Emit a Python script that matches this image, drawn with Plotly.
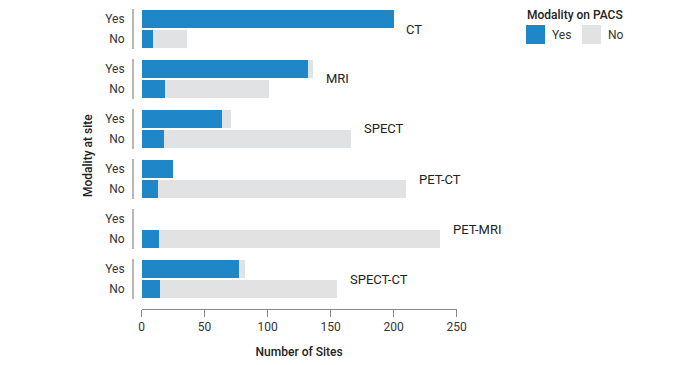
import plotly.graph_objects as go

modalities = ["CT", "MRI", "SPECT", "PET-CT", "PET-MRI", "SPECT-CT"]
site_levels = ["Yes", "No"]
# counts: [modality at site = Yes, modality at site = No]
pacs_yes = {
    "CT": [200, 9], "MRI": [132, 19], "SPECT": [64, 18],
    "PET-CT": [25, 13], "PET-MRI": [0, 14], "SPECT-CT": [77, 15],
}
pacs_no = {
    "CT": [0, 27], "MRI": [4, 82], "SPECT": [7, 148],
    "PET-CT": [0, 197], "PET-MRI": [0, 223], "SPECT-CT": [5, 140],
}
x_ticks = [0, 50, 100, 150, 200, 250]
legend_title = "Modality on PACS"
legend_names = ["Yes", "No"]

BLUE = "#1f86c8"
GRAY = "#e1e2e3"
FONT = "Roboto"

# page has an 8px body margin; figure is sized to fill the rest of the window
FIG_W, FIG_H = 692, 357
L, R, T, B = 125, 240, 1, 56
W, H = FIG_W - L - R, FIG_H - T - B
group_px, gap_px = 40, 10


def px_x(v):
    return (v - L) / W


def px_y(v):
    return (FIG_H - B - v) / H


fig = go.Figure()
annotations = []
shapes = []
for i, m in enumerate(modalities):
    yname = "y" if i == 0 else f"y{i+1}"
    top = i * (group_px + gap_px)
    d1 = 1 - top / H
    d0 = 1 - (top + group_px) / H
    fig.add_trace(go.Bar(
        y=site_levels, x=pacs_yes[m], orientation="h", name=legend_names[0],
        marker=dict(color=BLUE, line=dict(width=0)),
        showlegend=False, xaxis="x", yaxis=yname,
    ))
    fig.add_trace(go.Bar(
        y=site_levels, x=pacs_no[m], orientation="h", name=legend_names[1],
        marker=dict(color=GRAY, line=dict(width=0)),
        showlegend=False, xaxis="x", yaxis=yname,
    ))
    key = "yaxis" if i == 0 else f"yaxis{i+1}"
    fig.layout[key] = dict(
        domain=[d0, d1], anchor="free", position=0,
        type="category", categoryorder="array", categoryarray=["No", "Yes"],
        showline=True, linecolor="#b8b8b8", linewidth=2,
        ticks="outside", ticklen=5, tickcolor="rgba(0,0,0,0)",
        showgrid=False, zeroline=False, fixedrange=True, automargin=False,
        tickfont=dict(family=FONT, size=12, color="#333"),
    )
    totals = [a + b for a, b in zip(pacs_yes[m], pacs_no[m])]
    annotations.append(dict(
        x=max(totals) + 8.5, y=0.5, xref="x", yref=yname, text=m,
        showarrow=False, xanchor="left", yanchor="middle",
        font=dict(family=FONT, size=13, color="#222"),
    ))

annotations.append(dict(
    x=-45 / W, y=0.51, xref="paper", yref="paper", text="Modality at site",
    showarrow=False, textangle=-90, xanchor="center", yanchor="middle",
    font=dict(family=FONT, size=12, color="#222", weight=500),
))

# custom legend (title + two swatches)
annotations.append(dict(
    x=px_x(518), y=px_y(7), xref="paper", yref="paper", text=legend_title,
    showarrow=False, xanchor="left", yanchor="middle", borderpad=0,
    font=dict(family=FONT, size=12, color="#222", weight=500),
))
for name, color, x0 in zip(legend_names, [BLUE, GRAY], [518, 574]):
    shapes.append(dict(
        type="rect", xref="paper", yref="paper",
        x0=px_x(x0), x1=px_x(x0 + 19), y0=px_y(36), y1=px_y(17),
        fillcolor=color, line=dict(width=0),
    ))
    annotations.append(dict(
        x=px_x(x0 + 24), y=px_y(27), xref="paper", yref="paper", text=name,
        showarrow=False, xanchor="left", yanchor="middle",
        font=dict(family=FONT, size=12, color="#333"),
    ))

fig.update_layout(
    width=FIG_W, height=FIG_H,
    margin=dict(l=L, r=R, t=T, b=B, autoexpand=False),
    paper_bgcolor="white", plot_bgcolor="white",
    barmode="stack", bargap=0.06, showlegend=False,
    font=dict(family=FONT, size=12, color="#333"),
    xaxis=dict(
        domain=[8.5 / W, 323.7 / W], range=[0, 250], anchor="free", position=0,
        tickvals=x_ticks, ticks="outside", ticklen=7, tickcolor="#888",
        showline=True, linecolor="#888", linewidth=1,
        showgrid=False, zeroline=False, fixedrange=True, automargin=False,
        tickfont=dict(family=FONT, size=12, color="#333"),
        title=dict(text="Number of Sites", standoff=14,
                   font=dict(family=FONT, size=12, color="#222", weight=500)),
    ),
    annotations=annotations,
    shapes=shapes,
)

fig.write_html("out.html")
